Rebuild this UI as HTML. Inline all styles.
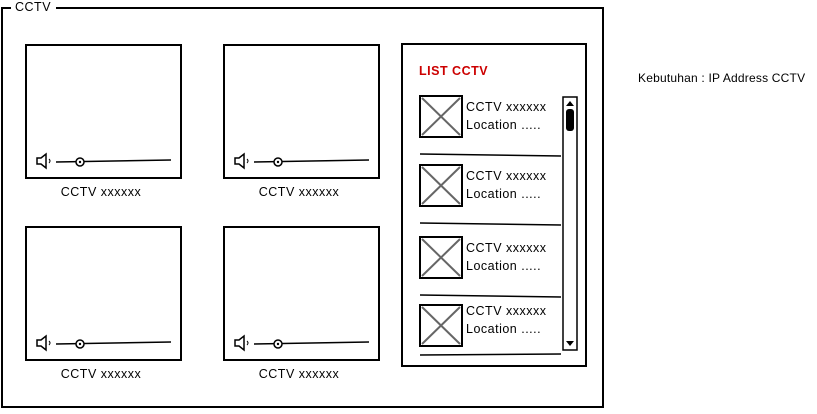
<!DOCTYPE html>
<html><head><style>
body{margin:0;background:#fff;width:817px;height:409px;overflow:hidden}
svg{font-family:"Liberation Sans",sans-serif}
text{letter-spacing:0.5px}
</style></head><body>
<svg width="817" height="409" viewBox="0 0 817 409">
<g fill="none" stroke="#000" stroke-width="2">
<rect x="2" y="8" width="601" height="399"/>
</g>
<rect x="11" y="0" width="45" height="14" fill="#fff"/>
<text x="15" y="11" font-size="12.5">CCTV</text>
<g id="v">
<rect x="26" y="45" width="155" height="133" fill="none" stroke="#000" stroke-width="2"/>
<path d="M37 158h4l5-4v14l-5-4h-4z" fill="none" stroke="#000" stroke-width="1.5"/>
<path d="M49 159q2 2 0 4" stroke="#000" fill="none"/>
<line x1="56" y1="162" x2="171" y2="160" stroke="#000" stroke-width="1.5"/>
<circle cx="80" cy="162" r="4" fill="#fff" stroke="#000" stroke-width="1.5"/>
<circle cx="80" cy="162" r="1.2" fill="#000"/>
<text x="101" y="196" font-size="12.5" text-anchor="middle">CCTV xxxxxx</text>
</g>
<use href="#v" x="198" y="0"/>
<use href="#v" x="0" y="182"/>
<use href="#v" x="198" y="182"/>
<rect x="402" y="44" width="184" height="322" fill="none" stroke="#000" stroke-width="2"/>
<text x="419" y="75" font-size="12.5" font-weight="bold" fill="#c00">LIST CCTV</text>
<g id="it">
<rect x="420" y="96" width="42" height="41" fill="none" stroke="#000" stroke-width="2"/>
<path d="M422 98L460 135M460 98L422 135" stroke="#666" stroke-width="2"/>
<text x="466" y="111" font-size="12.5">CCTV xxxxxx</text>
<text x="466" y="129" font-size="12.5">Location .....</text>
<line x1="420" y1="154" x2="561" y2="156" stroke="#000" stroke-width="1.5"/>
</g>
<use href="#it" x="0" y="69"/>
<use href="#it" x="0" y="141"/>
<g transform="translate(0,209)">
<rect x="420" y="96" width="42" height="41" fill="none" stroke="#000" stroke-width="2"/>
<path d="M422 98L460 135M460 98L422 135" stroke="#666" stroke-width="2"/>
<text x="466" y="106" font-size="12.5">CCTV xxxxxx</text>
<text x="466" y="124" font-size="12.5">Location .....</text>
</g>
<line x1="420" y1="355" x2="561" y2="354" stroke="#000" stroke-width="1.5"/>
<rect x="563" y="97" width="14" height="253" fill="#fff" stroke="#000" stroke-width="1.5"/>
<path d="M566 106l4-5 4 5z" fill="#000"/>
<rect x="566" y="109" width="8" height="22" rx="3" fill="#000"/>
<path d="M566 341l4 5 4-5z" fill="#000"/>
<text x="638" y="82" font-size="12" style="letter-spacing:0.2px">Kebutuhan : IP Address CCTV</text>
</svg>
</body></html>
